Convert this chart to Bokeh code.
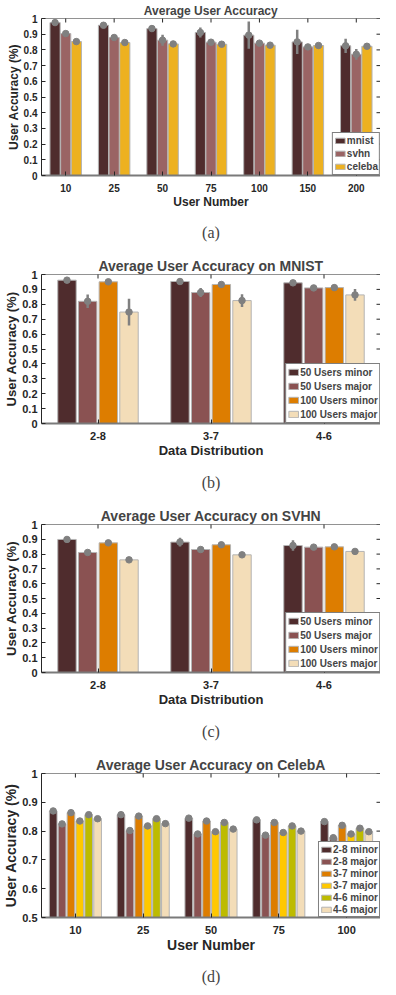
import math
from bokeh.plotting import figure
from bokeh.layouts import column
from bokeh.models import (Range1d, FixedTicker, Legend, LegendItem, Title,
                          Span)
from bokeh.embed import file_html
from bokeh.resources import INLINE

# ---------------- data ----------------
# (a) Average User Accuracy
a_groups = ["10", "25", "50", "75", "100", "150", "200"]
a_names = ["mnist", "svhn", "celeba"]
a_mnist = [0.974, 0.957, 0.936, 0.911, 0.894, 0.851, 0.826]
a_mnist_err = [0.006, 0.010, 0.018, 0.032, 0.087, 0.077, 0.045]
a_svhn = [0.904, 0.879, 0.862, 0.849, 0.843, 0.819, 0.772]
a_svhn_err = [0.004, 0.014, 0.035, 0.004, 0.005, 0.004, 0.034]
a_celeba = [0.853, 0.847, 0.838, 0.836, 0.830, 0.828, 0.823]
a_celeba_err = [0.004, 0.004, 0.004, 0.004, 0.004, 0.004, 0.004]

# (b) MNIST
b_groups = ["2-8", "3-7", "4-6"]
bc_names = ["50 Users minor", "50 Users major", "100 Users minor", "100 Users major"]
b_50_minor = [0.962, 0.953, 0.944]
b_50_minor_err = [0.005, 0.010, 0.006]
b_50_major = [0.820, 0.879, 0.910]
b_50_major_err = [0.045, 0.030, 0.020]
b_100_minor = [0.951, 0.933, 0.912]
b_100_minor_err = [0.007, 0.012, 0.020]
b_100_major = [0.748, 0.825, 0.863]
b_100_major_err = [0.090, 0.043, 0.040]

# (c) SVHN
c_groups = ["2-8", "3-7", "4-6"]
c_50_minor = [0.899, 0.881, 0.858]
c_50_minor_err = [0.004, 0.030, 0.035]
c_50_major = [0.811, 0.831, 0.847]
c_50_major_err = [0.004, 0.004, 0.004]
c_100_minor = [0.876, 0.863, 0.849]
c_100_minor_err = [0.004, 0.004, 0.004]
c_100_major = [0.761, 0.795, 0.818]
c_100_major_err = [0.012, 0.006, 0.004]

# (d) CelebA
d_groups = ["10", "25", "50", "75", "100"]
d_names = ["2-8 minor", "2-8 major", "3-7 minor", "3-7 major", "4-6 minor", "4-6 major"]
d_28_minor = [0.870, 0.857, 0.845, 0.839, 0.833]
d_28_major = [0.825, 0.802, 0.790, 0.786, 0.777]
d_37_minor = [0.864, 0.852, 0.835, 0.830, 0.820]
d_37_major = [0.835, 0.818, 0.798, 0.795, 0.790]
d_46_minor = [0.857, 0.843, 0.830, 0.818, 0.810]
d_46_major = [0.843, 0.826, 0.807, 0.800, 0.798]
d_28_major_err = [0.003, 0.003, 0.003, 0.003, 0.010]
d_small_err = [0.003, 0.003, 0.003, 0.003, 0.003]

ticks_full = [0, 0.1, 0.2, 0.3, 0.4, 0.5, 0.6, 0.7, 0.8, 0.9, 1]
ticks_half = [0.5, 0.6, 0.7, 0.8, 0.9, 1]

DARK = "#4F2C2D"
ROSE_A = "#9A6464"
ROSE = "#8A5252"
ORANGE = "#DD7D00"
BEIGE = "#F3DDB8"
YELLOW = "#FFC800"
OLIVE = "#BDBB00"
CELEBA = "#EDB120"

SANS = "Liberation Sans"
SERIF = "Liberation Serif"
AXIS = "#262626"


def panel(title, groups, series, errs, names, colors, ymin, yticks, spacing,
          bar_w, xlabel, caption, frame_h, top, title_size, label_size,
          tick_size, legend_row, glyph_h, x_standoff, cap_standoff):
    n = len(groups)
    m = len(series)
    p = figure(width=380, frame_height=frame_h, output_backend="svg",
               toolbar_location=None, x_range=Range1d(0.5, n + 0.5),
               y_range=Range1d(ymin, 1), min_border_left=0,
               min_border_right=0, min_border_top=top, min_border_bottom=0)
    p.outline_line_color = None
    p.grid.visible = False
    p.background_fill_color = "white"

    p.title.text = title
    p.title.align = "center"
    p.title.text_font = SANS
    p.title.text_font_style = "bold"
    p.title.text_font_size = title_size
    p.title.standoff = 2

    items = []
    for k in range(m):
        xs = [i + 1 + (k - (m - 1) / 2) * spacing for i in range(n)]
        r = p.vbar(x=xs, top=series[k], bottom=ymin, width=bar_w,
                   fill_color=colors[k], line_color="#B4B4B4", line_width=1)
        items.append(LegendItem(label=names[k], renderers=[r]))
    for k in range(m):
        xs = [i + 1 + (k - (m - 1) / 2) * spacing for i in range(n)]
        lo = [v - e for v, e in zip(series[k], errs[k])]
        hi = [v + e for v, e in zip(series[k], errs[k])]
        p.segment(x0=xs, y0=lo, x1=xs, y1=hi, line_color="#808080",
                  line_width=2.5)
        p.scatter(x=xs, y=series[k], size=6.5, fill_color="#808080",
                  line_color="#808080")

    # box: top line with inward ticks, inward ticks on the right edge
    p.add_layout(Span(location=1, dimension="width", line_color=AXIS,
                      line_width=1))
    p.scatter(x=[i + 1 for i in range(n)], y=[1] * n, marker="dash",
              angle=math.pi / 2, size=8, line_color=AXIS, line_width=1)
    p.scatter(x=[n + 0.5] * len(yticks), y=yticks, marker="dash", size=8,
              line_color=AXIS, line_width=1)

    leg = Legend(items=items, location="bottom_right")
    leg.border_line_color = "black"
    leg.border_line_width = 1
    leg.background_fill_alpha = 1
    leg.margin = 0
    leg.padding = 1
    leg.spacing = 0
    leg.glyph_width = 12
    leg.glyph_height = glyph_h
    leg.label_height = legend_row
    leg.label_standoff = 1
    leg.label_text_font = SANS
    leg.label_text_font_style = "bold"
    leg.label_text_font_size = "10px"
    leg.label_text_baseline = "middle"
    p.add_layout(leg)

    xa = p.xaxis[0]
    xa.ticker = FixedTicker(ticks=[i + 1 for i in range(n)])
    xa.major_label_overrides = {i + 1: g for i, g in enumerate(groups)}
    xa.axis_label = xlabel
    ya = p.yaxis[0]
    ya.ticker = FixedTicker(ticks=yticks)
    ya.major_label_overrides = {0: "0", 1: "1"}
    ya.axis_label = "User Accuracy (%)"
    for ax in (xa, ya):
        ax.major_tick_in = 4
        ax.major_tick_out = 0
        ax.minor_tick_line_color = None
        ax.major_tick_line_color = AXIS
        ax.major_label_text_font = SANS
        ax.major_label_text_font_style = "bold"
        ax.major_label_text_font_size = tick_size
        ax.major_label_text_color = AXIS
        ax.axis_label_text_font = SANS
        ax.axis_label_text_font_style = "bold"
        ax.axis_label_text_font_size = label_size
        ax.axis_label_text_color = AXIS
        ax.major_label_standoff = 4
    xa.major_label_standoff = x_standoff
    xa.axis_label_standoff = 0
    ya.axis_label_standoff = 0
    ya.axis_line_color = AXIS
    xa.axis_line_color = "#7A7A7A"
    xa.axis_line_width = 2

    cap = Title(text=caption, align="center", text_font=SERIF,
                text_font_style="normal", text_font_size="16px",
                standoff=cap_standoff)
    p.add_layout(cap, "below")
    return p


pa = panel("Average User Accuracy", a_groups,
           [a_mnist, a_svhn, a_celeba],
           [a_mnist_err, a_svhn_err, a_celeba_err],
           a_names, [DARK, ROSE_A, CELEBA], 0, ticks_full, 0.22, 0.21,
           "User Number", "(a)", 157, 0, "12px", "12px", "10px", 13, 7, 8, 21)
pb = panel("Average User Accuracy on MNIST", b_groups,
           [b_50_minor, b_50_major, b_100_minor, b_100_major],
           [b_50_minor_err, b_50_major_err, b_100_minor_err, b_100_major_err],
           bc_names, [DARK, ROSE, ORANGE, BEIGE], 0, ticks_full, 0.183, 0.163,
           "Data Distribution", "(b)", 149, 23, "14px", "13px", "11px", 14, 8, 8, 23)
pc = panel("Average User Accuracy on SVHN", c_groups,
           [c_50_minor, c_50_major, c_100_minor, c_100_major],
           [c_50_minor_err, c_50_major_err, c_100_minor_err, c_100_major_err],
           bc_names, [DARK, ROSE, ORANGE, BEIGE], 0, ticks_full, 0.183, 0.163,
           "Data Distribution", "(c)", 148, 22, "14px", "13px", "11px", 14, 8, 8, 23)
pd_ = panel("Average User Accuracy on CelebA", d_groups,
            [d_28_minor, d_28_major, d_37_minor, d_37_major, d_46_minor, d_46_major],
            [d_small_err, d_28_major_err, d_small_err, d_small_err, d_small_err, d_small_err],
            d_names, [DARK, ROSE, ORANGE, YELLOW, OLIVE, BEIGE], 0.5, ticks_half,
            0.131, 0.113, "User Number", "(d)", 144, 22, "14px", "14px", "11px", 12, 7, 8, 20)

layout = column(pa, pb, pc, pd_, spacing=0)
open("out.html", "w").write(file_html(layout, INLINE))
